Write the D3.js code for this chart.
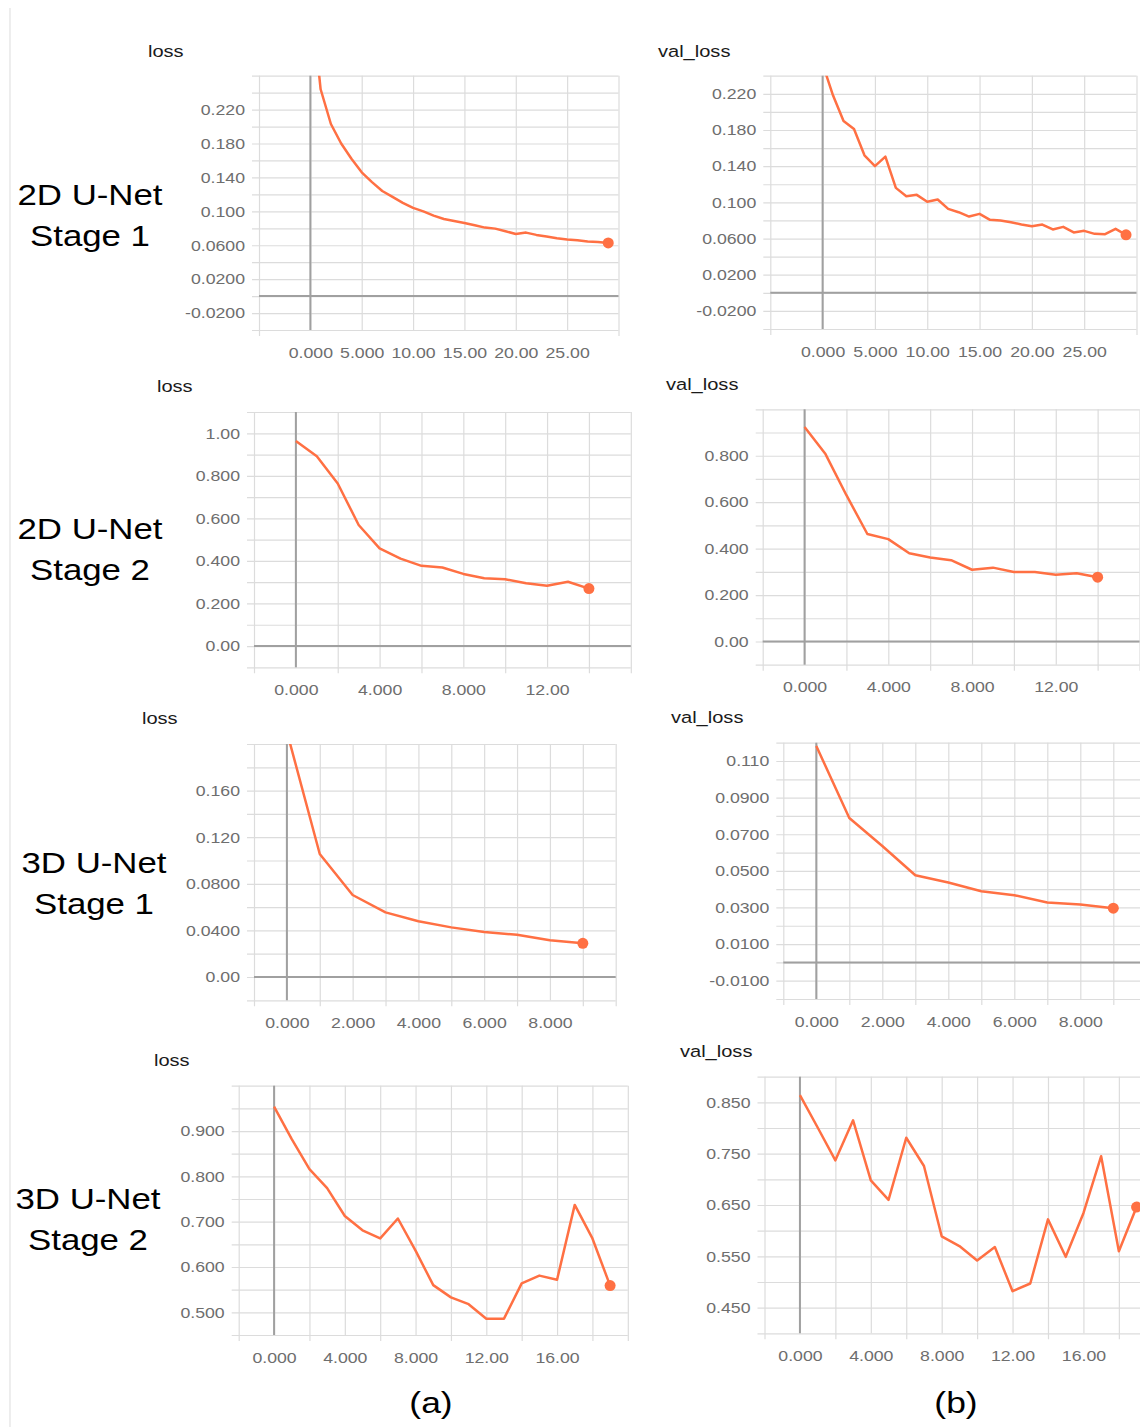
<!DOCTYPE html>
<html>
<head>
<meta charset="utf-8">
<script src="https://cdn.jsdelivr.net/npm/d3@7"></script>
<style>
  body { margin: 0; background: #fff; }
  svg { display: block; font-family: "Liberation Sans", Arial, sans-serif; }
</style>
</head>
<body>
<div id="chart"></div>
<script>
// values, one entry per epoch (x = epoch index)
const unet2dS1Loss = [0.36, 0.244, 0.203, 0.180, 0.162, 0.146, 0.1345, 0.124, 0.117, 0.110, 0.104, 0.100, 0.095, 0.091, 0.0886,
  0.0863, 0.0835, 0.0808, 0.0796, 0.0765, 0.0733, 0.0749, 0.0722, 0.0702, 0.0682, 0.0667, 0.0659, 0.0643, 0.0639, 0.0627];
const unet2dS1Val = [0.253, 0.218, 0.190, 0.181, 0.152, 0.140, 0.1506, 0.116, 0.1068, 0.1083, 0.1006, 0.1031, 0.0928, 0.0891, 0.0843,
  0.0873, 0.0807, 0.0799, 0.0781, 0.0755, 0.0737, 0.0755, 0.070, 0.0729, 0.0667, 0.0685, 0.0652, 0.0648, 0.0707, 0.0641];
const unet2dS2Loss = [0.964, 0.892, 0.764, 0.569, 0.459, 0.411, 0.377, 0.369, 0.339, 0.319, 0.314, 0.295, 0.283, 0.302, 0.270];
const unet2dS2Val = [0.924, 0.807, 0.630, 0.463, 0.441, 0.380, 0.362, 0.350, 0.309, 0.318, 0.299, 0.299, 0.287, 0.294, 0.277];
const unet3dS1Loss = [0.2106, 0.1056, 0.0704, 0.0555, 0.0478, 0.0426, 0.0386, 0.0363, 0.0315, 0.0289];
const unet3dS1Val = [0.1182, 0.0789, 0.0636, 0.0476, 0.0436, 0.0389, 0.0367, 0.0327, 0.0316, 0.0296];
const unet3dS2Loss = [0.954, 0.882, 0.816, 0.774, 0.7125, 0.681, 0.663, 0.707, 0.636, 0.560, 0.533, 0.518, 0.486, 0.486,
  0.564, 0.581, 0.572, 0.737, 0.663, 0.559];
const unet3dS2Val = [0.864, 0.801, 0.737, 0.815, 0.698, 0.660, 0.781, 0.726, 0.589, 0.570, 0.542, 0.568, 0.482, 0.497,
  0.622, 0.549, 0.634, 0.745, 0.560, 0.646];

// labelled ticks
const xTicks30 = [0, 5, 10, 15, 20, 25];
const xTicks16 = [0, 4, 8, 12];
const xTicks10 = [0, 2, 4, 6, 8];
const xTicks20 = [0, 4, 8, 12, 16];
const yTicks2dS1 = [-0.02, 0.02, 0.06, 0.10, 0.14, 0.18, 0.22];
const yTicks2dS2Loss = [0, 0.2, 0.4, 0.6, 0.8, 1.0];
const yTicks2dS2Val = [0, 0.2, 0.4, 0.6, 0.8];
const yTicks3dS1Loss = [0, 0.04, 0.08, 0.12, 0.16];
const yTicks3dS1Val = [-0.01, 0.01, 0.03, 0.05, 0.07, 0.09, 0.11];
const yTicks3dS2Loss = [0.5, 0.6, 0.7, 0.8, 0.9];
const yTicks3dS2Val = [0.45, 0.55, 0.65, 0.75, 0.85];

const rowLabels = [["2D U-Net", "Stage 1"], ["2D U-Net", "Stage 2"], ["3D U-Net", "Stage 1"], ["3D U-Net", "Stage 2"]];
const colLabels = ["(a)", "(b)"];

// box = [left, right, top, bottom] of each plot
const panels = [
  {title: "loss", values: unet2dS1Loss, xd: [-5, 30], yd: [-0.04, 0.26], xs: 5, ys: 0.02, xt: xTicks30, yt: yTicks2dS1,
   box: [259, 618.5, 75.7, 330], tpos: [148, 56.5]},
  {title: "val_loss", values: unet2dS1Val, xd: [-5, 30], yd: [-0.04, 0.24], xs: 5, ys: 0.02, xt: xTicks30, yt: yTicks2dS1,
   box: [770.3, 1136.5, 75.7, 329], tpos: [658, 56.5]},
  {title: "loss", values: unet2dS2Loss, xd: [-2, 16], yd: [-0.1, 1.1], xs: 2, ys: 0.1, xt: xTicks16, yt: yTicks2dS2Loss,
   box: [254, 630.8, 412, 667.3], tpos: [157, 392]},
  {title: "val_loss", values: unet2dS2Val, xd: [-2, 16], yd: [-0.1, 1.0], xs: 2, ys: 0.1, xt: xTicks16, yt: yTicks2dS2Val,
   box: [762.7, 1139.5, 409.3, 664.7], tpos: [666, 390]},
  {title: "loss", values: unet3dS1Loss, xd: [-1, 10], yd: [-0.02, 0.2], xs: 1, ys: 0.02, xt: xTicks10, yt: yTicks3dS1Loss,
   box: [254, 615.7, 744, 1000.3], tpos: [142, 724]},
  {title: "val_loss", values: unet3dS1Val, xd: [-1, 10], yd: [-0.02, 0.12], xs: 1, ys: 0.01, xt: xTicks10, yt: yTicks3dS1Val,
   box: [783.3, 1146.3, 742.7, 999], tpos: [671, 723]},
  {title: "loss", values: unet3dS2Loss, xd: [-2, 20], yd: [0.45, 1.0], xs: 2, ys: 0.05, xt: xTicks20, yt: yTicks3dS2Loss,
   box: [238.7, 627.8, 1085.7, 1335], tpos: [154, 1066]},
  {title: "val_loss", values: unet3dS2Val, xd: [-2, 20], yd: [0.40, 0.90], xs: 2, ys: 0.05, xt: xTicks20, yt: yTicks3dS2Val,
   box: [764.5, 1154.3, 1076.7, 1333.3], tpos: [680, 1057]}
];

const W = 1140, H = 1427;
const STRETCH = 1.18;   // the source picture is widened a little
const lineColor = "#ff7043";
const gridColor = "#dcdcdc";
const zeroColor = "#a0a0a0";

const fmtY = d3.format(".3r");
const fmtX = d3.format(".4r");
const fix = s => s.replace("\u2212", "-");
const near = (a, b) => Math.abs(a - b) < 1e-9;

const svg = d3.select("#chart").append("svg").attr("width", W).attr("height", H);
svg.append("rect").attr("width", W).attr("height", H).attr("fill", "#fff");

// thin rule down the left edge
svg.append("line").attr("x1", 10).attr("x2", 10).attr("y1", 8).attr("y2", H)
  .attr("stroke", "#e2e2e2").attr("stroke-width", 1.2);

function stretchedText(g, txt, x, y, size, color, anchor) {
  return g.append("text")
    .attr("transform", `translate(${x},${y}) scale(${STRETCH},1)`)
    .attr("font-size", size)
    .attr("fill", color)
    .attr("text-anchor", anchor || "start")
    .text(txt);
}

panels.forEach((p, idx) => {
  const [L, R, T, B] = p.box;
  const g = svg.append("g");

  const x = d3.scaleLinear().domain(p.xd).range([L, R]);
  const y = d3.scaleLinear().domain(p.yd).range([B, T]);

  const gridX = d3.range(p.xd[0], p.xd[1] + p.xs / 2, p.xs);
  const gridY = d3.range(p.yd[0], p.yd[1] + p.ys / 2, p.ys);
  const isXLab = d => p.xt.some(t => near(t, d));
  const isYLab = d => p.yt.some(t => near(t, d));

  // y axis: gridlines run across the plot, with a short tick on the left
  const ya = g.append("g").attr("transform", `translate(${L - 7},0)`)
    .call(d3.axisLeft(y).tickValues(gridY).tickSizeInner(-(R - L + 7)).tickSizeOuter(0).tickPadding(7)
      .tickFormat(d => isYLab(d) ? fix(fmtY(d)) : ""));
  ya.select(".domain").remove();
  ya.selectAll(".tick line").attr("stroke", gridColor).attr("stroke-width", 1.2);
  ya.selectAll(".tick text")
    .attr("font-size", 15).attr("fill", "#6e6e6e").attr("font-family", "Liberation Sans, Arial, sans-serif")
    .attr("transform", function () { return `translate(${d3.select(this).attr("x")},0) scale(${STRETCH},1)`; })
    .attr("x", 0);

  // x axis: gridlines up the plot, minor ones poke below
  const xa = g.append("g").attr("transform", `translate(0,${B + 6})`)
    .call(d3.axisBottom(x).tickValues(gridX).tickSizeInner(-(B - T + 6)).tickSizeOuter(0).tickPadding(11)
      .tickFormat(d => isXLab(d) ? fix(fmtX(d)) : ""));
  xa.select(".domain").remove();
  xa.selectAll(".tick line").attr("stroke", gridColor).attr("stroke-width", 1.2)
    .attr("y1", d => isXLab(d) ? -6 : 0);
  xa.selectAll(".tick text")
    .attr("font-size", 15).attr("fill", "#6e6e6e").attr("font-family", "Liberation Sans, Arial, sans-serif")
    .attr("transform", function () { return `translate(0,${d3.select(this).attr("y")}) scale(${STRETCH},1)`; })
    .attr("y", 0);

  // zero lines
  g.append("line").attr("x1", L).attr("x2", R).attr("y1", y(0)).attr("y2", y(0))
    .attr("stroke", zeroColor).attr("stroke-width", 2)
    .style("display", p.yd[0] < 0 ? null : "none");
  g.append("line").attr("x1", x(0)).attr("x2", x(0)).attr("y1", T).attr("y2", B)
    .attr("stroke", zeroColor).attr("stroke-width", 2);

  // data line, clipped to the plot
  const clipId = "clip" + idx;
  svg.append("clipPath").attr("id", clipId).append("rect")
    .attr("x", L).attr("y", T).attr("width", R - L).attr("height", B - T);

  const line = d3.line().x((d, i) => x(i)).y(d => y(d));
  g.append("path").datum(p.values)
    .attr("clip-path", `url(#${clipId})`)
    .attr("fill", "none").attr("stroke", lineColor).attr("stroke-width", 2.5)
    .attr("stroke-linejoin", "round")
    .attr("d", line);

  const last = p.values.length - 1;
  g.append("circle").attr("cx", x(last)).attr("cy", y(p.values[last])).attr("r", 5.5)
    .attr("fill", lineColor);

  stretchedText(g, p.title, p.tpos[0], p.tpos[1], 17, "#1a1a1a");
});

// row labels
const rowPos = [[90, 205], [90, 539], [94, 873], [88, 1209]];
rowLabels.forEach((lines, i) => {
  lines.forEach((t, j) => {
    stretchedText(svg, t, rowPos[i][0], rowPos[i][1] + j * 41, 29.5, "#000", "middle");
  });
});

// column labels
const colPos = [[431, 1413], [956, 1413]];
colLabels.forEach((t, i) => {
  stretchedText(svg, t, colPos[i][0], colPos[i][1], 30, "#000", "middle");
});
</script>
</body>
</html>
